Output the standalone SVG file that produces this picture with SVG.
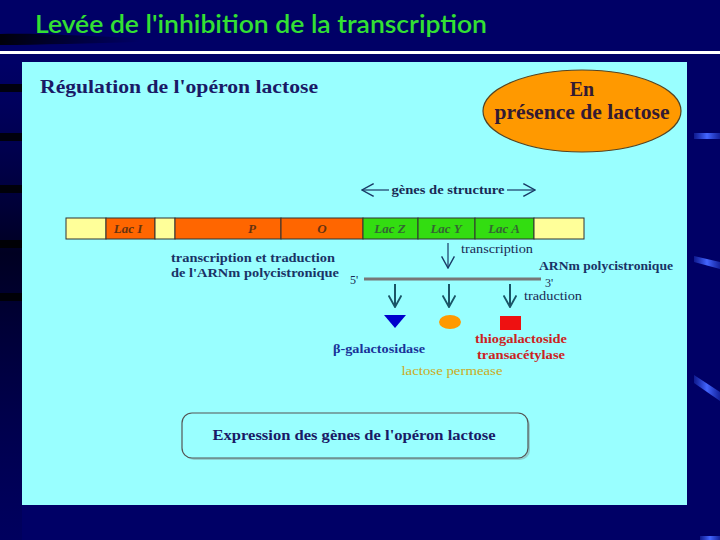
<svg xmlns="http://www.w3.org/2000/svg" width="720" height="540" viewBox="0 0 720 540">
  <defs>
    <linearGradient id="swoosh" x1="0" y1="0" x2="1" y2="0">
      <stop offset="0" stop-color="#000000" stop-opacity="0.9"/>
      <stop offset="1" stop-color="#000000" stop-opacity="0"/>
    </linearGradient>
    <linearGradient id="leftdark" x1="0" y1="0" x2="0" y2="1">
      <stop offset="0" stop-color="#000033" stop-opacity="0"/>
      <stop offset="0.4" stop-color="#000010" stop-opacity="0.8"/>
      <stop offset="1" stop-color="#000040" stop-opacity="0.2"/>
    </linearGradient>
    <linearGradient id="streak" x1="0" y1="0" x2="1" y2="0">
      <stop offset="0" stop-color="#3355ee" stop-opacity="0.3"/>
      <stop offset="0.5" stop-color="#4466ff"/>
      <stop offset="1" stop-color="#3355ee" stop-opacity="0.4"/>
    </linearGradient>
    <marker id="chev2" viewBox="0 0 12 12" refX="11" refY="6" markerWidth="14" markerHeight="14" markerUnits="userSpaceOnUse" orient="auto">
      <path d="M1,0.5 L11,6 L1,11.5" fill="none" stroke="#1a5566" stroke-width="1.6"/>
    </marker>
    <marker id="chev3" viewBox="0 0 12 12" refX="11" refY="6" markerWidth="14" markerHeight="14" markerUnits="userSpaceOnUse" orient="auto">
      <path d="M1,0.5 L11,6 L1,11.5" fill="none" stroke="#1a3a66" stroke-width="1.2"/>
    </marker>
  </defs>
  <style>
    .serif { font-family: "Liberation Serif", "Times New Roman", serif; }
    .b { font-weight: bold; }
    .navy { fill: #1a1a66; }
    .gene { stroke: #333333; stroke-width: 1; }
    .glab { font-family: "Liberation Serif", serif; font-style: italic; font-weight: bold; font-size: 13px; text-anchor: middle; }
    .small { font-family: "Liberation Serif", serif; font-size: 12px; fill: #1a2a55; }
  </style>

  <!-- background -->
  <rect x="0" y="0" width="720" height="540" fill="#000066"/>
  <path d="M0,34 C40,33 80,36 140,38 L140,42 C90,43 40,45 0,45 Z" fill="url(#swoosh)"/>
  <rect x="0" y="62" width="22" height="478" fill="url(#leftdark)"/>
  <g fill="#000000" opacity="0.85">
    <rect x="0" y="84" width="22" height="8"/>
    <rect x="0" y="133" width="22" height="8"/>
    <rect x="0" y="185" width="22" height="8"/>
    <rect x="0" y="240" width="22" height="8"/>
    <rect x="0" y="293" width="22" height="8"/>
  </g>
  <g fill="url(#streak)">
    <rect x="694" y="133" width="26" height="6"/>
    <polygon points="694,256 720,262 720,269 694,262"/>
    <polygon points="694,375 720,392 720,401 694,383"/>
    <rect x="700" y="536" width="20" height="4"/>
  </g>

  <!-- title -->
  <text x="35" y="33" font-family="Lato, 'Noto Sans', sans-serif" font-size="24" font-weight="600" fill="#33e033" textLength="452" lengthAdjust="spacingAndGlyphs">Levée de l'inhibition de la transcription</text>
  <rect x="0" y="51" width="720" height="3" fill="#ffffff"/>

  <!-- panel -->
  <rect x="22" y="62" width="665" height="443" fill="#99ffff"/>

  <text x="40" y="93" class="serif b navy" font-size="19" textLength="278" lengthAdjust="spacingAndGlyphs">Régulation de l'opéron lactose</text>

  <g id="presence">
    <ellipse cx="582" cy="111" rx="99" ry="41" fill="#ff9900" stroke="#554422" stroke-width="1.2"/>
    <text x="582" y="96" class="serif b" font-size="20" fill="#331a33" text-anchor="middle">En</text>
    <text x="582" y="119" class="serif b" font-size="20" fill="#331a33" text-anchor="middle" textLength="175" lengthAdjust="spacingAndGlyphs">présence de lactose</text>
  </g>

  <g id="structure-label">
    <text x="448" y="194" class="serif b" font-size="12" fill="#1a2a55" text-anchor="middle" textLength="113" lengthAdjust="spacingAndGlyphs">gènes de structure</text>
  </g>

  <g id="operon">
    <rect x="66" y="218" width="40" height="21" fill="#ffff99" class="gene"/>
    <rect x="106" y="218" width="49" height="21" fill="#ff6600" class="gene"/>
    <rect x="155" y="218" width="20" height="21" fill="#ffff99" class="gene"/>
    <rect x="175" y="218" width="106" height="21" fill="#ff6600" class="gene"/>
    <rect x="281" y="218" width="82" height="21" fill="#ff6600" class="gene"/>
    <rect x="363" y="218" width="55" height="21" fill="#33dd11" class="gene"/>
    <rect x="418" y="218" width="57" height="21" fill="#33dd11" class="gene"/>
    <rect x="475" y="218" width="59" height="21" fill="#33dd11" class="gene"/>
    <rect x="534" y="218" width="50" height="21" fill="#ffff99" class="gene"/>
    <text x="128" y="233" class="glab" fill="#663311">Lac I</text>
    <text x="252" y="233" class="glab" fill="#663311">P</text>
    <text x="322" y="233" class="glab" fill="#663311">O</text>
    <text x="390" y="233" class="glab" fill="#336633">Lac Z</text>
    <text x="446" y="233" class="glab" fill="#336633">Lac Y</text>
    <text x="504" y="233" class="glab" fill="#336633">Lac A</text>
  </g>

  <g id="transcription-note">
    <text x="171" y="262" class="serif b" font-size="13" fill="#1a3366" textLength="164" lengthAdjust="spacingAndGlyphs">transcription et traduction</text>
    <text x="171" y="277" class="serif b" font-size="13" fill="#1a3366" textLength="168" lengthAdjust="spacingAndGlyphs">de l'ARNm polycistronique</text>
  </g>

  <g id="mrna">
    <line x1="364" y1="279" x2="541" y2="279" stroke="#777777" stroke-width="3"/>
    <text x="350" y="284" class="small" font-size="10">5'</text>
    <text x="545" y="287" class="small" font-size="9">3'</text>
    <text x="539" y="270" class="serif b" font-size="13" fill="#1a3366" textLength="134" lengthAdjust="spacingAndGlyphs">ARNm polycistronique</text>
  </g>

  <g id="proteins">
    <polygon points="384,315 406,315 395,328" fill="#0000cc"/>
    <ellipse cx="450" cy="322" rx="11" ry="7" fill="#ff9900"/>
    <rect x="500" y="316" width="21" height="14" fill="#ee1111"/>
    <text x="379" y="353" class="serif b" font-size="13" fill="#1a3399" text-anchor="middle" textLength="92" lengthAdjust="spacingAndGlyphs">β-galactosidase</text>
    <text x="521" y="343" class="serif b" font-size="13" fill="#cc2222" text-anchor="middle" textLength="92" lengthAdjust="spacingAndGlyphs">thiogalactoside</text>
    <text x="521" y="359" class="serif b" font-size="13" fill="#cc2222" text-anchor="middle" textLength="88" lengthAdjust="spacingAndGlyphs">transacétylase</text>
    <text x="452" y="375" class="serif" font-size="13" fill="#ccaa22" text-anchor="middle" textLength="101" lengthAdjust="spacingAndGlyphs">lactose permease</text>
  </g>

  <g id="expression">
    <rect x="184" y="415" width="346" height="45" rx="10" fill="#777777" opacity="0.35"/>
    <rect x="182" y="413" width="346" height="45" rx="10" fill="#99ffff" stroke="#555555" stroke-width="1.2"/>
    <text x="354" y="440" class="serif b navy" font-size="15" text-anchor="middle" textLength="283" lengthAdjust="spacingAndGlyphs">Expression des gènes de l'opéron lactose</text>
  </g>

  <g id="connectors">
    <line x1="389" y1="190" x2="362" y2="190" stroke="#1a3a66" stroke-width="1.2" marker-end="url(#chev3)"/>
    <line x1="507" y1="190" x2="535" y2="190" stroke="#1a3a66" stroke-width="1.2" marker-end="url(#chev3)"/>
    <line x1="448" y1="243" x2="448" y2="268" stroke="#1a3a66" stroke-width="1.2" marker-end="url(#chev3)"/>
    <text x="461" y="253" class="small" textLength="72" lengthAdjust="spacingAndGlyphs">transcription</text>
    <line x1="395" y1="284" x2="395" y2="307" stroke="#1a5566" stroke-width="2" marker-end="url(#chev2)"/>
    <line x1="449" y1="284" x2="449" y2="307" stroke="#1a5566" stroke-width="2" marker-end="url(#chev2)"/>
    <line x1="510" y1="284" x2="510" y2="307" stroke="#1a5566" stroke-width="2" marker-end="url(#chev2)"/>
    <text x="524" y="300" class="small" textLength="58" lengthAdjust="spacingAndGlyphs">traduction</text>
  </g>
</svg>
